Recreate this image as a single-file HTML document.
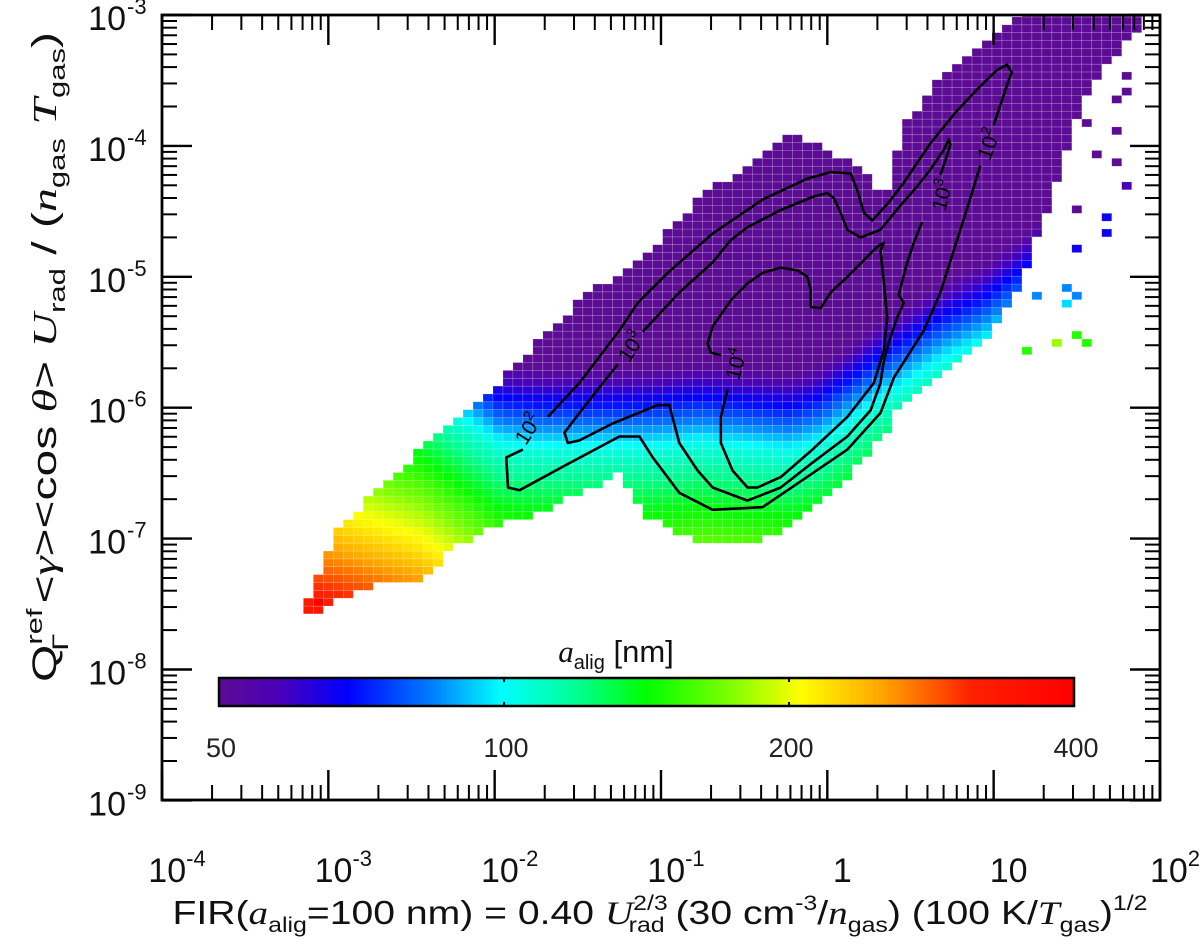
<!DOCTYPE html>
<html><head><meta charset="utf-8">
<style>
html,body{margin:0;padding:0;background:#fff;}
svg{display:block;font-family:"Liberation Sans",Arial,sans-serif;}
</style></head>
<body>
<svg id="chart" width="1200" height="948" viewBox="0 0 1200 948" xmlns="http://www.w3.org/2000/svg">
<defs>
<clipPath id="plotclip"><rect x="162" y="15" width="998" height="785"/></clipPath>
<linearGradient id="cbgrad" x1="0" x2="1" y1="0" y2="0">
<stop offset="0" stop-color="#5c0c94"/><stop offset="0.07" stop-color="#4a00b8"/><stop offset="0.15" stop-color="#0000ff"/><stop offset="0.25" stop-color="#0080ff"/><stop offset="0.33" stop-color="#00ffff"/><stop offset="0.42" stop-color="#00ff90"/><stop offset="0.5" stop-color="#00ff00"/><stop offset="0.6" stop-color="#80ff00"/><stop offset="0.68" stop-color="#ffff00"/><stop offset="0.78" stop-color="#ffa000"/><stop offset="0.88" stop-color="#ff2000"/><stop offset="1" stop-color="#ff0000"/>
</linearGradient>
</defs>
<g id="cells" clip-path="url(#plotclip)"></g>
<g id="contours" clip-path="url(#plotclip)"></g>
<g id="colorbar"></g>
<g id="axes"></g>
<text transform="translate(56,357) rotate(-90)" text-anchor="middle" font-size="34" fill="#111" textLength="650" lengthAdjust="spacingAndGlyphs">Q<tspan font-size="22" dy="-14">ref</tspan><tspan font-size="22" dx="-30" dy="26">Γ</tspan><tspan dy="-12" dx="12"> &lt;</tspan><tspan font-family="Liberation Serif,serif" font-style="italic">γ</tspan><tspan>&gt;&lt;cos </tspan><tspan font-family="Liberation Serif,serif" font-style="italic">θ</tspan><tspan>&gt; </tspan><tspan font-family="Liberation Serif,serif" font-style="italic">U</tspan><tspan font-size="22" dy="9">rad</tspan><tspan dy="-9"> / (</tspan><tspan font-family="Liberation Serif,serif" font-style="italic">n</tspan><tspan font-size="22" dy="9">gas</tspan><tspan dy="-9"> </tspan><tspan font-family="Liberation Serif,serif" font-style="italic">T</tspan><tspan font-size="22" dy="9">gas</tspan><tspan dy="-9">)</tspan></text>
<text x="660" y="924" text-anchor="middle" font-size="33" fill="#111" textLength="975" lengthAdjust="spacingAndGlyphs">FIR(<tspan font-family="Liberation Serif,serif" font-style="italic">a</tspan><tspan font-size="21" dy="8">alig</tspan><tspan dy="-8">=100 nm) = 0.40 </tspan><tspan font-family="Liberation Serif,serif" font-style="italic">U</tspan><tspan font-size="21" dy="-14">2/3</tspan><tspan font-size="21" dx="-33" dy="22">rad</tspan><tspan dy="-8"> (30 cm</tspan><tspan font-size="21" dy="-14">-3</tspan><tspan dy="14">/</tspan><tspan font-family="Liberation Serif,serif" font-style="italic">n</tspan><tspan font-size="21" dy="8">gas</tspan><tspan dy="-8">) (100 K/</tspan><tspan font-family="Liberation Serif,serif" font-style="italic">T</tspan><tspan font-size="21" dy="8">gas</tspan><tspan dy="-8">)</tspan><tspan font-size="21" dy="-14">1/2</tspan></text>
</svg>
<script>
// ---- data (log10 units) ----
const ctrlLogX   = [-3.11,-2.93,-2.69,-2.45,-2.21,-1.97,-1.73,-1.49,-1.25,-1.07,-0.76,-0.46,-0.22,-0.04,0.14,0.26,0.35,0.44,0.68,0.95,1.16,1.40,1.52,1.76,1.85];
const topLogY    = [-7.47,-6.94,-6.63,-6.36,-6.09,-5.83,-5.52,-5.22,-4.99,-4.83,-4.41,-4.16,-3.92,-4.03,-4.15,-4.30,-4.45,-3.92,-3.48,-3.23,-3.0,-3.0,-3.0,-3.0,-3.0];
const bottomLogY = [-7.55,-7.43,-7.32,-7.28,-7.01,-6.86,-6.77,-6.63,-6.48,-6.82,-7.01,-7.01,-6.90,-6.67,-6.48,-6.32,-6.17,-5.94,-5.71,-5.48,-5.02,-4.18,-3.65,-3.23,-3.08];
const purpleEdgeLogY = [-5.15,-5.20,-5.30,-5.40,-5.60,-5.80,-5.83,-5.83,-5.83,-5.83,-5.79,-5.83,-5.86,-5.79,-5.64,-5.52,-5.44,-5.37,-5.18,-5.02,-4.83,-4.57,-4.41,-4.30,-4.26];
const alignGradientNear = 0.55; // colour fraction per dex, first 0.5 dex below edge
const alignGradientFar = 0.30;  // colour fraction per dex further below
const outlierLogX = [-3.06,1.62,1.73,1.79,1.80,1.71,1.56,1.73,1.62,1.73,1.80,1.49,1.67,1.67,1.49,1.43,1.50,1.44,1.26,1.37,1.49,1.55,1.20];
const outlierLogY = [-7.47,-3.32,-3.21,-3.46,-3.57,-3.63,-3.80,-3.88,-4.05,-4.12,-4.30,-4.47,-4.54,-4.66,-4.77,-5.08,-5.12,-5.19,-5.12,-5.50,-5.43,-5.50,-5.55];
const outlierAlig = [400,50,50,50,50,50,50,50,50,50,58,50,66,66,66,85,85,95,85,180,150,150,150];
const contour2a = [[-1.68,-6.07],[-1.49,-5.81],[-1.25,-5.41],[-1.14,-5.20],[-0.96,-4.97],[-0.69,-4.67],[-0.39,-4.41],[-0.12,-4.25],[0.02,-4.20],[0.14,-4.21],[0.18,-4.34],[0.22,-4.51],[0.27,-4.57],[0.37,-4.43],[0.46,-4.28],[0.54,-4.13],[0.62,-3.98],[0.78,-3.73],[0.90,-3.57],[1.02,-3.42],[1.08,-3.38],[1.11,-3.44],[1.09,-3.50],[1.04,-3.69],[1.00,-3.84]];
const contour2b = [[0.92,-4.15],[0.85,-4.44],[0.76,-4.80],[0.68,-5.12],[0.58,-5.41],[0.40,-5.77],[0.32,-6.04],[0.12,-6.32],[-0.18,-6.58],[-0.39,-6.76],[-0.69,-6.78],[-0.89,-6.65],[-1.05,-6.38],[-1.13,-6.22],[-1.25,-6.22],[-1.59,-6.45],[-1.85,-6.63],[-1.92,-6.61],[-1.93,-6.38],[-1.83,-6.32]];
const contour3a = [[-1.11,-5.42],[-0.89,-5.12],[-0.69,-4.89],[-0.58,-4.72],[-0.48,-4.62],[-0.28,-4.49],[-0.09,-4.39],[0.00,-4.36],[0.04,-4.40],[0.08,-4.51],[0.12,-4.64],[0.20,-4.70],[0.32,-4.64],[0.43,-4.47],[0.54,-4.31],[0.62,-4.18],[0.70,-4.03],[0.73,-3.95],[0.74,-3.99],[0.71,-4.11],[0.68,-4.22]];
const contour3b = [[0.57,-4.58],[0.52,-4.74],[0.48,-4.89],[0.44,-5.08],[0.43,-5.14],[0.46,-5.20],[0.42,-5.31],[0.38,-5.46],[0.34,-5.64],[0.32,-5.81],[0.26,-6.02],[0.12,-6.22],[-0.09,-6.42],[-0.28,-6.61],[-0.48,-6.71],[-0.69,-6.61],[-0.78,-6.48],[-0.89,-6.27],[-0.95,-5.98],[-1.02,-5.98],[-1.29,-6.12],[-1.49,-6.25],[-1.56,-6.27],[-1.58,-6.19],[-1.49,-6.04],[-1.38,-5.86],[-1.26,-5.67]];
const contour4 = [[-0.60,-5.86],[-0.64,-6.07],[-0.64,-6.27],[-0.57,-6.48],[-0.48,-6.61],[-0.42,-6.61],[-0.28,-6.53],[-0.09,-6.32],[0.12,-6.07],[0.28,-5.81],[0.34,-5.56],[0.36,-5.31],[0.34,-5.05],[0.32,-4.80],[0.34,-4.74],[0.30,-4.77],[0.12,-5.00],[0.02,-5.12],[-0.04,-5.24],[-0.10,-5.23],[-0.10,-5.10],[-0.12,-5.00],[-0.18,-4.95],[-0.28,-4.93],[-0.39,-4.97],[-0.48,-5.05],[-0.58,-5.18],[-0.69,-5.38],[-0.72,-5.51],[-0.70,-5.58],[-0.64,-5.60]];
const contourLabelText = ["2","3","4","3","2"];
const contourLabelX = [-1.79,-1.17,-0.54,0.70,0.98];
const contourLabelY = [-6.17,-5.54,-5.67,-4.38,-3.99];
const contourLabelRot = [-58,-58,-75,-75,-70];
const xTickExp = [-4,-3,-2,-1,0,1,2];
const xTickLabels = ["-4","-3","-2","-1","1","10","2"];
const yTickExp = [-9,-8,-7,-6,-5,-4,-3];
const cbTickValues = [50,100,200,400];

// ---- scales ----
const X = lx => 162 + (lx + 4) * 166.33;
const Y = ly => 15 + (-3 - ly) * 130.9;
const CB = a => 219 + Math.log2(a / 50) / 3 * 855;
const NS = "http://www.w3.org/2000/svg";
function mk(tag, attrs, parent){const e=document.createElementNS(NS,tag);for(const k in attrs)e.setAttribute(k,attrs[k]);parent.appendChild(e);return e;}
function interp(xs, ys, x){
  if(x<=xs[0])return ys[0]; if(x>=xs[xs.length-1])return ys[ys.length-1];
  for(let i=0;i<xs.length-1;i++){if(x<=xs[i+1]){const f=(x-xs[i])/(xs[i+1]-xs[i]);return ys[i]+f*(ys[i+1]-ys[i]);}}
}
const stops=[[0,[92,12,148]],[0.07,[74,0,184]],[0.15,[0,0,255]],[0.25,[0,128,255]],[0.33,[0,255,255]],[0.42,[0,255,144]],[0.5,[0,255,0]],[0.6,[128,255,0]],[0.68,[255,255,0]],[0.78,[255,160,0]],[0.88,[255,32,0]],[1,[255,0,0]]];
function cmap(t){t=Math.max(0,Math.min(1,t));for(let i=0;i<stops.length-1;i++){if(t<=stops[i+1][0]){const f=(t-stops[i][0])/(stops[i+1][0]-stops[i][0]);const c=stops[i][1].map((v,j)=>Math.round(v+f*(stops[i+1][1][j]-v)));return `rgb(${c[0]},${c[1]},${c[2]})`;}}return "rgb(255,0,0)";}
const aToT = a => Math.log2(a/50)/3;

// ---- heatmap ----
const gC=document.getElementById('cells');
const dx=0.06, dy=0.06, x0=-3.15, y0=-7.695;
function cell(lx, ly, t){
  const r=mk('rect',{x:X(lx).toFixed(2),y:Y(ly+dy).toFixed(2),width:(dx*166.33).toFixed(2),height:(dy*130.9).toFixed(2),fill:cmap(t),stroke:'rgba(255,255,255,0.28)','stroke-width':'0.6'},gC);
  
  
}
for(let i=0;i<86;i++){
  const lx=x0+i*dx, cx=lx+dx/2;
  if(cx<ctrlLogX[0]-0.02||cx>ctrlLogX[ctrlLogX.length-1]+0.02)continue;
  const top=interp(ctrlLogX,topLogY,cx), bot=interp(ctrlLogX,bottomLogY,cx), pe=interp(ctrlLogX,purpleEdgeLogY,cx);
  for(let j=0;j<82;j++){
    const ly=y0+j*dy, cy=ly+dy/2;
    if(cy<bot-0.03||cy>top+0.03)continue;
    const d=pe-cy;
    let t = d<0 ? Math.max(0,0.08+d*0.6) : (d<0.5 ? 0.08+d*alignGradientNear : 0.08+0.5*alignGradientNear+(d-0.5)*alignGradientFar);
    cell(lx,ly,t);
  }
}
outlierLogX.forEach((lx,k)=>{
  const i=Math.floor((lx-x0)/dx), j=Math.floor((outlierLogY[k]-y0)/dy);
  cell(x0+i*dx, y0+j*dy, aToT(outlierAlig[k]));
});

// ---- contours ----
const gK=document.getElementById('contours');
[[contour2a,'contour-1e2'],[contour2b,'contour-1e2'],[contour3a,'contour-1e3'],[contour3b,'contour-1e3'],[contour4,'contour-1e4']].forEach(([pts,name])=>{
  const p=mk('polyline',{points:pts.map(p=>X(p[0]).toFixed(1)+','+Y(p[1]).toFixed(1)).join(' '),fill:'none',stroke:'#000','stroke-width':'2.6','stroke-linejoin':'round'},gK);
  
  
});
contourLabelText.forEach((s,k)=>{
  const t=mk('text',{x:0,y:0,transform:`translate(${X(contourLabelX[k]).toFixed(1)},${Y(contourLabelY[k]).toFixed(1)}) rotate(${contourLabelRot[k]})`,'text-anchor':'middle','dominant-baseline':'middle','font-size':'21',fill:'#000'},gK);
  
  
  t.textContent='10';
  const sp=mk('tspan',{'font-size':'14',dy:'-8'},t); sp.textContent=s;
});

// ---- colorbar ----
const gB=document.getElementById('colorbar');
const cbr=mk('rect',{x:219,y:678,width:855,height:28,fill:'url(#cbgrad)',stroke:'#000','stroke-width':'2.5'},gB);


cbTickValues.forEach(v=>{
  const x=CB(v);
  mk('line',{x1:x,x2:x,y1:678,y2:682,stroke:'#000','stroke-width':'2'},gB);
  mk('line',{x1:x,x2:x,y1:702,y2:706,stroke:'#000','stroke-width':'2'},gB);
  const t=mk('text',{x:x+2,y:757,'text-anchor':'middle','font-size':'27',fill:'#222'},gB);
  
  
  t.textContent=v;
});
const cbt=mk('text',{x:616,y:662,'text-anchor':'middle','font-size':'31',fill:'#111'},gB);


const a1=mk('tspan',{'font-family':'Liberation Serif,serif','font-style':'italic'},cbt); a1.textContent='a';
const a2=mk('tspan',{'font-size':'20',dy:'7'},cbt); a2.textContent='alig';
const a3=mk('tspan',{dy:'-7'},cbt); a3.textContent=' [nm]';

// ---- axes ----
const gA=document.getElementById('axes');
const frame=mk('rect',{x:162,y:15,width:998,height:785,fill:'none',stroke:'#000','stroke-width':'2.8'},gA);


xTickExp.forEach((e,k)=>{
  const x=X(e);
  mk('line',{x1:x,x2:x,y1:800,y2:770,stroke:'#000','stroke-width':'2.4'},gA);
  mk('line',{x1:x,x2:x,y1:15,y2:45,stroke:'#000','stroke-width':'2.4'},gA);
  if(e<2){for(let m=2;m<10;m++){const xm=X(e+Math.log10(m));
    mk('line',{x1:xm,x2:xm,y1:800,y2:785,stroke:'#000','stroke-width':'2'},gA);
    mk('line',{x1:xm,x2:xm,y1:15,y2:30,stroke:'#000','stroke-width':'2'},gA);}}
  const lab=xTickLabels[k];
  const t=mk('text',{x:x+15,y:882,'text-anchor':'middle','font-size':'34',fill:'#111'},gA);
  
  
  if(e===0||e===1){t.textContent=lab;}
  else{t.textContent='10';const s=mk('tspan',{'font-size':'22',dy:'-16'},t);s.textContent=lab;}
});
yTickExp.forEach(e=>{
  const y=Y(e);
  mk('line',{x1:162,x2:192,y1:y,y2:y,stroke:'#000','stroke-width':'2.4'},gA);
  mk('line',{x1:1160,x2:1130,y1:y,y2:y,stroke:'#000','stroke-width':'2.4'},gA);
  if(e<-3){for(let m=2;m<10;m++){const ym=Y(e+Math.log10(m));
    mk('line',{x1:162,x2:177,y1:ym,y2:ym,stroke:'#000','stroke-width':'2'},gA);
    mk('line',{x1:1160,x2:1145,y1:ym,y2:ym,stroke:'#000','stroke-width':'2'},gA);}}
  const t=mk('text',{x:126,y:y+15,'text-anchor':'end','font-size':'34',fill:'#111'},gA);
  
  
  t.textContent='10';
  const s=mk('tspan',{'font-size':'22',x:127,dy:'-16','text-anchor':'start'},t);s.textContent=String(e);
});
</script>
</body></html>
